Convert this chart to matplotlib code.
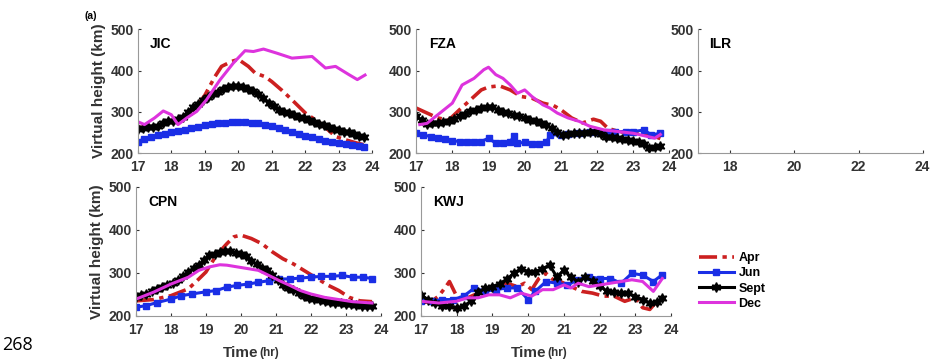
import matplotlib
matplotlib.use('Agg')
from matplotlib import pyplot as plt

plt.rcParams['font.family'] = ['Liberation Sans', 'DejaVu Sans']

# --- JIC ---
jic_apr_t = [17.0, 17.3, 17.6, 17.9, 18.2, 18.5, 18.8, 19.0, 19.3, 19.5, 19.8, 20.0, 20.3, 20.5, 20.8, 21.0, 21.3, 21.6, 22.0, 22.5, 22.9, 23.2, 23.5, 23.75]
jic_apr_h = [262, 263, 266, 272, 280, 295, 318, 340, 385, 410, 422, 427, 410, 394, 385, 373, 352, 329, 297, 269, 240, 232, 225, 220]
jic_jun_t = [17.0, 17.2, 17.4, 17.6, 17.8, 18.0, 18.2, 18.4, 18.6, 18.8, 19.0, 19.2, 19.4, 19.6, 19.8, 20.0, 20.2, 20.4, 20.6, 20.8, 21.0, 21.2, 21.4, 21.6, 21.8, 22.0, 22.2, 22.4, 22.6, 22.8, 23.0, 23.2, 23.4, 23.6, 23.75]
jic_jun_h = [228, 234, 239, 243, 246, 250, 253, 257, 260, 264, 269, 271, 272, 273, 275, 275, 275, 274, 273, 269, 265, 260, 255, 250, 245, 241, 238, 234, 230, 227, 225, 222, 220, 217, 215]
jic_sep_t = [17.0, 17.15, 17.3, 17.45, 17.6, 17.75, 17.9, 18.05, 18.2, 18.35, 18.5, 18.65, 18.8, 18.95, 19.1, 19.25, 19.4, 19.55, 19.7, 19.85, 20.0, 20.15, 20.3, 20.45, 20.6, 20.75, 20.9, 21.05, 21.2, 21.35, 21.5, 21.65, 21.8, 21.95, 22.1, 22.25, 22.4, 22.55, 22.7, 22.85, 23.0, 23.15, 23.3, 23.45, 23.6, 23.75]
jic_sep_h = [258, 260, 262, 263, 266, 272, 277, 278, 282, 288, 300, 312, 318, 328, 335, 342, 348, 355, 360, 363, 362, 360, 355, 350, 342, 333, 322, 313, 305, 300, 296, 292, 288, 284, 280, 275, 271, 267, 263, 259, 256, 252, 250, 247, 242, 238]
jic_dec_t = [17.0, 17.2, 17.5, 17.76, 18.0, 18.2, 18.46, 18.76, 19.05, 19.45, 19.85, 20.2, 20.45, 20.75, 21.15, 21.6, 22.2, 22.6, 22.9, 23.3, 23.55, 23.78]
jic_dec_h = [276, 269, 285, 302, 293, 269, 285, 301, 329, 377, 418, 448, 446, 452, 442, 430, 434, 406, 410, 390, 378, 389]

# --- FZA ---
fza_apr_t = [17.0, 17.3, 17.6, 17.9, 18.2, 18.5, 18.8, 19.0, 19.3, 19.6, 19.9, 20.2, 20.5, 20.8, 21.0, 21.3, 21.6, 21.9, 22.1, 22.3, 22.6, 23.0, 23.3, 23.6, 23.75]
fza_apr_h = [309, 297, 285, 280, 305, 329, 353, 360, 363, 353, 337, 333, 321, 315, 305, 285, 273, 282, 277, 260, 252, 248, 248, 240, 235]
fza_jun_t = [17.0, 17.2, 17.4, 17.6, 17.8, 18.0, 18.2, 18.4, 18.6, 18.8, 19.0, 19.2, 19.4, 19.6, 19.7, 19.8, 20.0, 20.2, 20.4, 20.6, 20.7, 21.0, 21.2, 21.5, 21.8, 22.0, 22.3, 22.5, 22.8, 23.0, 23.3, 23.5, 23.75]
fza_jun_h = [248, 244, 240, 236, 233, 230, 228, 226, 226, 228, 236, 224, 224, 226, 242, 224, 226, 223, 223, 226, 244, 244, 246, 248, 250, 252, 252, 252, 252, 252, 256, 244, 248]
fza_sep_t = [17.0, 17.15, 17.3, 17.45, 17.6, 17.75, 17.9, 18.05, 18.2, 18.35, 18.5, 18.65, 18.8, 18.95, 19.1, 19.25, 19.4, 19.55, 19.7, 19.85, 20.0, 20.15, 20.3, 20.45, 20.6, 20.75, 20.9, 21.05, 21.2, 21.35, 21.5, 21.65, 21.8, 21.95, 22.1, 22.25, 22.4, 22.55, 22.7, 22.85, 23.0, 23.15, 23.3, 23.45, 23.6, 23.75]
fza_sep_h = [289, 280, 271, 272, 273, 275, 277, 283, 289, 295, 301, 305, 309, 312, 311, 305, 300, 296, 293, 289, 285, 281, 277, 273, 267, 260, 252, 244, 246, 248, 248, 248, 250, 252, 246, 240, 238, 236, 234, 232, 230, 228, 222, 212, 214, 216]
fza_dec_t = [17.1, 17.3, 17.6, 18.0, 18.27, 18.6, 18.87, 19.0, 19.2, 19.4, 19.6, 19.8, 20.0, 20.2, 20.5, 20.7, 20.9, 21.2, 21.5, 21.8, 22.2, 22.6, 23.0, 23.3, 23.6, 23.75]
fza_dec_h = [269, 272, 293, 321, 365, 381, 402, 408, 390, 381, 365, 345, 353, 337, 317, 309, 297, 285, 277, 265, 256, 252, 248, 242, 236, 245]

# --- CPN ---
cpn_apr_t = [17.0, 17.5, 18.0, 18.5, 18.8, 19.0, 19.3, 19.6, 19.8, 20.0, 20.3, 20.6, 20.9, 21.2, 21.5, 21.8, 22.2, 22.5, 22.8, 23.1, 23.4, 23.75]
cpn_apr_h = [235, 238, 247, 263, 286, 302, 341, 368, 384, 388, 380, 368, 349, 333, 321, 306, 286, 271, 259, 243, 235, 233]
cpn_jun_t = [17.0, 17.3, 17.6, 18.0, 18.3, 18.6, 19.0, 19.3, 19.6, 19.9, 20.2, 20.5, 20.8, 21.1, 21.4, 21.7, 22.0, 22.3, 22.6, 22.9, 23.2, 23.5, 23.75]
cpn_jun_h = [220, 224, 231, 239, 247, 251, 256, 259, 267, 271, 274, 278, 282, 286, 286, 288, 290, 292, 292, 294, 290, 290, 287]
cpn_sep_t = [17.0, 17.15, 17.3, 17.45, 17.6, 17.75, 17.9, 18.05, 18.2, 18.35, 18.5, 18.65, 18.8, 18.95, 19.1, 19.25, 19.4, 19.55, 19.7, 19.85, 20.0, 20.15, 20.3, 20.45, 20.6, 20.75, 20.9, 21.05, 21.2, 21.35, 21.5, 21.65, 21.8, 21.95, 22.1, 22.25, 22.4, 22.55, 22.7, 22.85, 23.0, 23.15, 23.3, 23.45, 23.6, 23.75]
cpn_sep_h = [243, 248, 251, 257, 263, 268, 272, 276, 284, 292, 302, 312, 318, 330, 341, 345, 349, 352, 350, 347, 343, 340, 328, 320, 312, 306, 294, 284, 271, 265, 260, 253, 247, 242, 239, 236, 234, 232, 231, 230, 228, 227, 225, 224, 224, 224]
cpn_dec_t = [17.0, 17.5, 18.0, 18.5, 18.8, 19.1, 19.4, 19.6, 19.9, 20.2, 20.5, 20.8, 21.1, 21.4, 21.7, 22.0, 22.4, 22.8, 23.2, 23.75]
cpn_dec_h = [239, 255, 274, 290, 306, 314, 319, 318, 314, 310, 306, 294, 282, 271, 259, 251, 243, 238, 233, 230]

# --- KWJ ---
kwj_apr_t = [17.0, 17.3, 17.5, 17.7, 17.8, 18.0, 18.2, 18.5, 18.8, 19.1, 19.4, 19.7, 19.9, 20.1, 20.3, 20.5, 20.7, 20.9, 21.2, 21.5, 21.8, 22.1, 22.4, 22.7, 23.0, 23.2, 23.4, 23.6]
kwj_apr_h = [230, 234, 246, 268, 280, 246, 238, 249, 257, 265, 276, 268, 276, 261, 287, 299, 284, 280, 268, 257, 253, 246, 246, 234, 242, 219, 215, 234]
kwj_jun_t = [17.0, 17.3, 17.6, 17.9, 18.2, 18.5, 18.8, 19.1, 19.4, 19.7, 20.0, 20.2, 20.5, 20.8, 21.1, 21.4, 21.7, 22.0, 22.3, 22.6, 22.9, 23.2, 23.5, 23.75]
kwj_jun_h = [234, 234, 238, 238, 246, 265, 257, 261, 265, 265, 238, 257, 280, 276, 272, 284, 291, 287, 287, 276, 299, 295, 280, 296]
kwj_sep_t = [17.0, 17.2, 17.4, 17.6, 17.8, 18.0, 18.2, 18.4, 18.6, 18.8, 19.0, 19.2, 19.4, 19.6, 19.8, 20.0, 20.2, 20.4, 20.6, 20.8, 21.0, 21.2, 21.4, 21.6, 21.8, 22.0, 22.2, 22.4, 22.6, 22.8, 23.0, 23.2, 23.4, 23.6, 23.75]
kwj_sep_h = [249, 238, 230, 223, 223, 219, 223, 234, 255, 265, 268, 275, 285, 299, 310, 303, 303, 310, 318, 291, 306, 290, 280, 291, 281, 270, 257, 255, 253, 253, 245, 238, 230, 232, 241]
kwj_dec_t = [17.0, 17.5, 18.0, 18.3, 18.6, 18.9, 19.2, 19.5, 19.8, 20.1, 20.4, 20.7, 21.0, 21.2, 21.4, 21.7, 22.0, 22.3, 22.6, 22.9, 23.2, 23.5, 23.75]
kwj_dec_h = [234, 230, 234, 242, 242, 249, 249, 242, 253, 246, 261, 261, 272, 265, 276, 268, 272, 276, 280, 284, 280, 257, 287]

stations = ['JIC', 'FZA', 'ILR', 'CPN', 'KWJ']
data = {
    'JIC': [(jic_apr_t, jic_apr_h), (jic_jun_t, jic_jun_h), (jic_sep_t, jic_sep_h), (jic_dec_t, jic_dec_h)],
    'FZA': [(fza_apr_t, fza_apr_h), (fza_jun_t, fza_jun_h), (fza_sep_t, fza_sep_h), (fza_dec_t, fza_dec_h)],
    'ILR': None,
    'CPN': [(cpn_apr_t, cpn_apr_h), (cpn_jun_t, cpn_jun_h), (cpn_sep_t, cpn_sep_h), (cpn_dec_t, cpn_dec_h)],
    'KWJ': [(kwj_apr_t, kwj_apr_h), (kwj_jun_t, kwj_jun_h), (kwj_sep_t, kwj_sep_h), (kwj_dec_t, kwj_dec_h)],
}
months = ['Apr', 'Jun', 'Sept', 'Dec']

styles = [
    dict(color='#cc2020', linestyle=(0, (5, 1.5, 1.2, 1.5)), linewidth=2.6),
    dict(color='#1a2ee6', linestyle='-', linewidth=2.2, marker='s', markersize=4.5),
    dict(color='black', linestyle='-', linewidth=2.2, marker=(6, 1, 0), markersize=7),
    dict(color='#dd33dd', linestyle='-', linewidth=2.2),
]

positions = {
    'JIC': [0.148, 0.576, 0.252, 0.343],
    'FZA': [0.447, 0.576, 0.272, 0.343],
    'ILR': [0.750, 0.576, 0.241, 0.343],
    'CPN': [0.146, 0.125, 0.263, 0.357],
    'KWJ': [0.452, 0.125, 0.269, 0.357],
}

fig = plt.figure(figsize=(9.31, 3.61), dpi=100)
tick_col = '#333333'
lines = []
for st in stations:
    ax = fig.add_axes(positions[st])
    if data[st] is not None:
        for (t, h), sty in zip(data[st], styles):
            ln, = ax.plot(t, h, **sty)
            if st == 'KWJ':
                lines.append(ln)
    ax.set_xlim(17, 24)
    ax.set_ylim(200, 500)
    ax.set_yticks([200, 300, 400, 500])
    if st == 'ILR':
        ax.set_xticks([18, 20, 22, 24])
    else:
        ax.set_xticks(range(17, 25))
    for side in ['top', 'right']:
        ax.spines[side].set_visible(False)
    for side in ['left', 'bottom']:
        ax.spines[side].set_color('#999999')
    ax.tick_params(axis='both', colors=tick_col, labelsize=10, length=2, direction='in')
    ax.tick_params(axis='x', pad=5)
    ax.tick_params(axis='y', pad=3)
    for lab in ax.get_xticklabels() + ax.get_yticklabels():
        lab.set_fontweight('bold')
    ax.text(0.05, 0.88, st, transform=ax.transAxes, fontsize=10, fontweight='bold', va='center')
    if st in ('JIC', 'CPN'):
        ax.set_ylabel('Virtual height (km)', fontsize=11, fontweight='bold', color=tick_col, labelpad=3)
    if st in ('CPN', 'KWJ'):
        # "Time" with a smaller "(hr)" beside it
        ax.text(0.5, -0.285, 'Time', transform=ax.transAxes, ha='right', va='center',
                fontsize=11, fontweight='bold', color=tick_col)
        ax.text(0.505, -0.285, '(hr)', transform=ax.transAxes, ha='left', va='center',
                fontsize=8.5, fontweight='bold', color=tick_col)

fig.legend(lines, months, loc='upper left', bbox_to_anchor=(0.745, 0.315), frameon=False,
           prop={'weight': 'bold', 'size': 9}, handlelength=2.8, labelspacing=0.25,
           handletextpad=0.4, borderaxespad=0)

fig.text(0.091, 0.955, '(a)', fontsize=7.5, fontweight='bold', va='center')
fig.text(0.002, 0.045, '268', fontsize=13, family=['Open Sans', 'DejaVu Sans'], va='center')

plt.savefig('out.png', dpi=100)
